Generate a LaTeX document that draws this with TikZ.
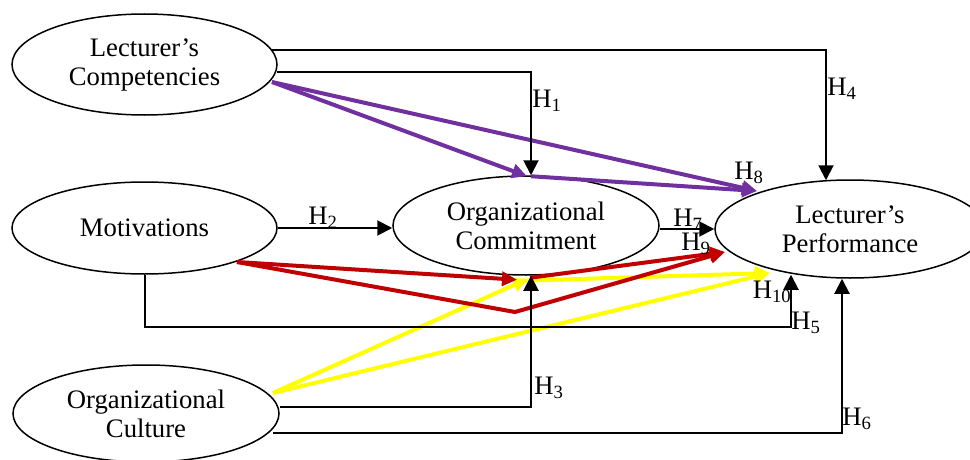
\documentclass[tikz,border=0pt]{standalone}
\usepackage{fontspec}
\setmainfont{Liberation Serif}
\usetikzlibrary{shapes.geometric,arrows.meta,calc}
\definecolor{purp}{HTML}{7030A0}
\definecolor{redc}{HTML}{C00000}
\definecolor{yelc}{HTML}{FFFF00}
\begin{document}
\begin{tikzpicture}[x=1pt,y=-1pt,
  font=\fontsize{26.7}{29}\selectfont,
  ell/.style={draw,ellipse,line width=1.5pt,inner sep=0pt,align=center},
  blk/.style={line width=2pt,-{Triangle[width=15pt,length=15pt]}},
  pur/.style={draw=purp,line width=4pt,-{Triangle[width=14pt,length=15pt]}},
  rd/.style={draw=redc,line width=4pt,-{Triangle[width=14pt,length=15pt]}},
  yl/.style={draw=yelc,line width=4pt,-{Triangle[width=14pt,length=15pt]}},
  lab/.style={inner sep=0pt}]
\useasboundingbox (0,0) rectangle (970,460);
\clip (0,0) rectangle (970,460);
% nodes
\node[ell,minimum width=265pt,minimum height=101pt] (lc) at (144.5,64.5) {Lecturer’s\\Competencies};
\node[ell,minimum width=265pt,minimum height=92pt] (mot) at (144.5,228) {Motivations};
\node[ell,minimum width=266pt,minimum height=97pt] (cul) at (146,413.5) {Organizational\\Culture};
\node[ell,minimum width=266pt,minimum height=99pt] (oc) at (526,225.5) {Organizational\\Commitment};
\node[ell,minimum width=270pt,minimum height=98pt] (lp) at (850,229) {Lecturer’s\\Performance};
% helper coordinates
\coordinate (lcP) at ($(lc.center)+(127.5,17.5)$);
\coordinate (lpP) at ($(lp.center)+(-93,-38)$);
\coordinate (motR) at ($(mot.center)+(92.5,34)$);
\coordinate (rb) at (515,312);
\coordinate (lpR) at ($(lp.center)+(-125,23)$);
\coordinate (culY) at ($(cul.center)+(127,-20.5)$);
\coordinate (lpY) at ($(lp.center)+(-80,44)$);
\coordinate (h5) at (791,327);
% coloured paths
\draw[pur] (lcP) -- ($(oc.north)+(1,1)$);
\draw[pur] (lcP) -- (lpP);
\draw[pur] ($(oc.north)+(5,1)$) -- (lpP);
\draw[yl] (culY) -- ($(oc.south)+(2,3)$);
\draw[yl] (culY) -- (lpY);
\draw[yl] ($(oc.south)+(-3,5)$) -- (lpY);
\draw[rd] (motR) -- ($(oc.south)+(-9,4)$);
\draw[rd] (motR) -- (rb) -- (lpR);
\draw[rd] ($(oc.south)+(4,2)$) -- (lpR);
% black paths
\draw[blk] ($(lc.east)+(-1,7.5)$) -| ($(oc.north)+(5,0)$);
\draw[blk] ($(lc.center)+(127,-14.5)$) -| ($(lp.north)+(-24,1)$);
\draw[blk] (mot.east) -- (mot.east -| oc.west);
\draw[blk] (oc.east |- lp.west) -- (lp.west);
\draw[blk] (mot.south) |- (h5) -- ($(h5 |- lp.south)+(0,-4)$);
\draw[blk] ($(cul.east)+(0,-6.5)$) -| ($(oc.south)+(5,0)$);
\draw[blk] ($(cul.center)+(127,19.5)$) -| ($(lp.south)+(-8,0)$);
% labels
\node[lab] (t1) at (547,101) {H\textsubscript{1}};
\node[lab] (t2) at (323,218) {H\textsubscript{2}};
\node[lab] (t3) at (549,388) {H\textsubscript{3}};
\node[lab] (t4) at (842,89) {H\textsubscript{4}};
\node[lab] (t5) at (806,323) {H\textsubscript{5}};
\node[lab] (t6) at (857,419) {H\textsubscript{6}};
\node[lab] (t7) at (688,220) {H\textsubscript{7}};
\node[lab] (t8) at (749,173) {H\textsubscript{8}};
\node[lab] (t9) at (696,244) {H\textsubscript{9}};
\node[lab] (t10) at (772,292) {H\textsubscript{10}};
\end{tikzpicture}
\end{document}
